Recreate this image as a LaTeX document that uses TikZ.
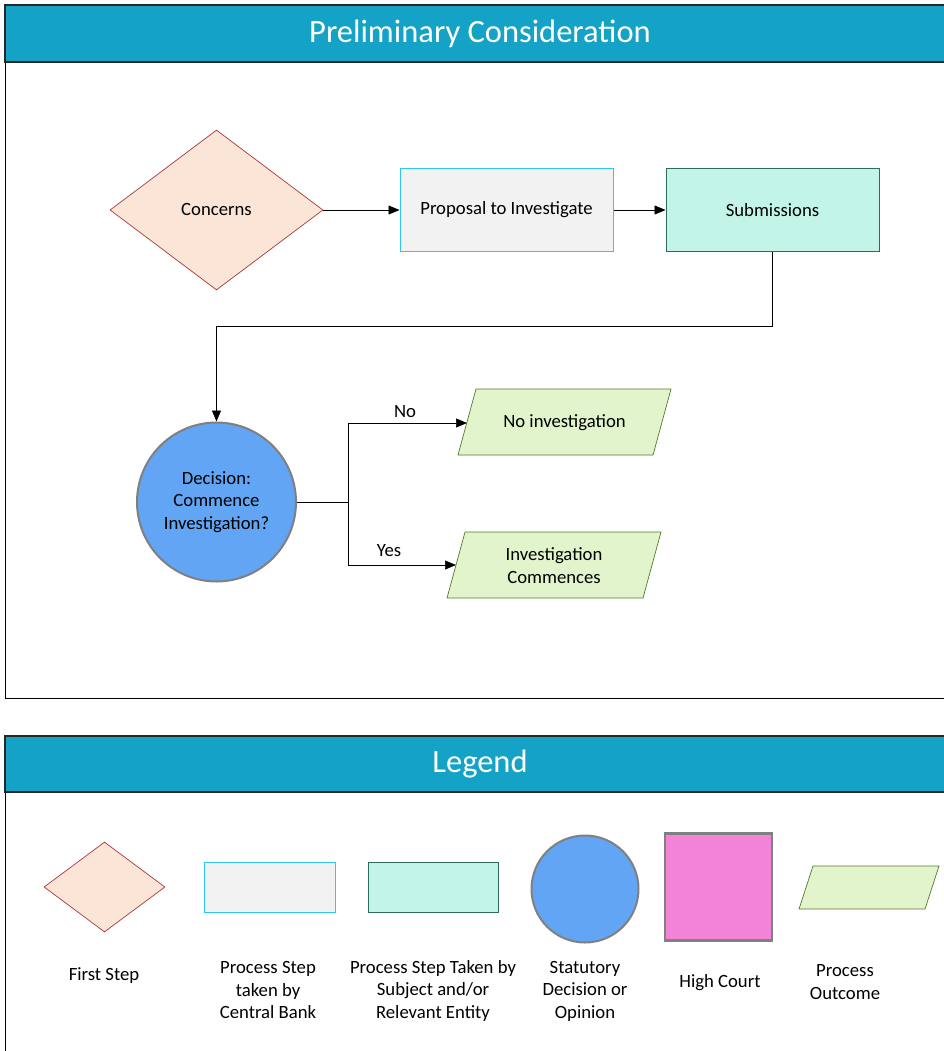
\documentclass[tikz,border=0pt]{standalone}
\usepackage{fontspec}
\setmainfont{Carlito}
\usetikzlibrary{arrows.meta,shapes.geometric}

\definecolor{headblue}{HTML}{14A3C7}
\definecolor{firstfill}{HTML}{FAE5D7}
\definecolor{firstline}{HTML}{A8383A}
\definecolor{bankfill}{HTML}{F2F2F2}
\definecolor{bankline}{HTML}{2CC8F0}
\definecolor{subjfill}{HTML}{C2F5E7}
\definecolor{subjline}{HTML}{2D6B5C}
\definecolor{decfill}{HTML}{61A5F4}
\definecolor{decline}{HTML}{808080}
\definecolor{outfill}{HTML}{E2F4CB}
\definecolor{outline}{HTML}{557A2A}
\definecolor{courtfill}{HTML}{F383D9}

\tikzset{
  x=1pt, y=-1pt,
  every node/.style={font=\fontsize{18.7}{22.5}\selectfont, text=black},
  panel/.style={draw=black, line width=0.8pt},
  header/.style={fill=headblue, draw=black!85, line width=1.2pt},
  headtext/.style={font=\fontsize{32.5}{36}\selectfont, text=white},
  firststep/.style={diamond, aspect=1.33, draw=firstline, fill=firstfill, line width=0.7pt, inner sep=0pt},
  bankstep/.style={rectangle, draw=bankline, fill=bankfill, line width=1pt, inner sep=0pt},
  subjstep/.style={rectangle, draw=subjline, fill=subjfill, line width=1pt, inner sep=0pt},
  decision/.style={circle, draw=decline, fill=decfill, line width=2pt, inner sep=0pt, align=center},
  court/.style={rectangle, draw=decline, fill=courtfill, line width=2.5pt, inner sep=0pt},
  outcome/.style={draw=outline, fill=outfill, line width=0.7pt},
  conn/.style={draw=black, line width=0.7pt},
  arr/.style={conn, -{Triangle[length=11pt,width=9pt]}},
  legtext/.style={align=center, font=\fontsize{18.7}{22.5}\selectfont},
}

\begin{document}
\begin{tikzpicture}
\useasboundingbox (0,0) rectangle (944,1051);

% ---- Preliminary Consideration panel ----
\draw[panel, fill=white] (5,5) rectangle (960,698);
\draw[header] (5,5) rectangle (960,62);
\node[headtext] (title1) at (480,34) {Preliminary Consideration};

% process nodes
\node[firststep, minimum width=213pt, minimum height=160pt] (concerns) at (216.5,210) {Concerns};
\node[bankstep, minimum width=213pt, minimum height=82pt] (proposal) at (506.5,210) {Proposal to Investigate};
\node[subjstep, minimum width=213pt, minimum height=82pt] (subm) at (772.5,210) {Submissions};
\node[decision, minimum size=159pt] (decide) at (216.5,502) {Decision:\\Commence\\Investigation?};

% outcome parallelograms
\draw[outcome] (476,389) -- (671,389) -- (653,455) -- (458,455) -- cycle;
\node (noinv) at (564.5,423) {No investigation};
\coordinate (noinvL) at (467,423);
\draw[outcome] (465,532) -- (661,532) -- (643,598) -- (447,598) -- cycle;
\node[align=center, font=\fontsize{18.7}{23}\selectfont] (invc) at (554,566) {Investigation\\Commences};
\coordinate (invcL) at (456,565);

% connectors
\draw[arr] (concerns.east) -- (proposal.west);
\draw[arr] (proposal.east) -- (subm.west);
\draw[arr] (subm.south) |- (216.5,326) -- (decide.north);
\coordinate (split) at (348,502);
\draw[conn] (decide.east) -- (split);
\draw[arr] (split) |- (noinvL);
\draw[arr] (split) |- (invcL);
\node (nolab) at (405,412) {No};
\node (yeslab) at (389,551) {Yes};

% ---- Legend panel ----
\draw[panel, fill=white] (5,736) rectangle (960,1070);
\draw[header] (5,736) rectangle (960,792);
\node[headtext] (title2) at (480,764) {Legend};

\node[firststep, minimum width=121pt, minimum height=90pt] (lfirst) at (104.5,887) {};
\node[bankstep, minimum width=131pt, minimum height=50pt] (lbank) at (269.5,887) {};
\node[subjstep, minimum width=130pt, minimum height=50pt] (lsubj) at (433,887) {};
\node[decision, minimum size=107pt] (ldec) at (585,889) {};
\node[court, minimum size=107pt] (lcourt) at (718.5,887) {};
\draw[outcome] (813,866) -- (939,866) -- (925,909) -- (799,909) -- cycle;

\node[legtext] (tfirst) at (104,976) {First Step};
\node[legtext] (tbank) at (268,990) {Process Step\\taken by\\Central Bank};
\node[legtext] (tsubj) at (433,991) {Process Step Taken by\\Subject and/or\\Relevant Entity};
\node[legtext] (tdec) at (585,991) {Statutory\\Decision or\\Opinion};
\node[legtext] (tcourt) at (720,983) {High Court};
\node[legtext] (tout) at (845,982) {Process\\Outcome};
\end{tikzpicture}
\end{document}
